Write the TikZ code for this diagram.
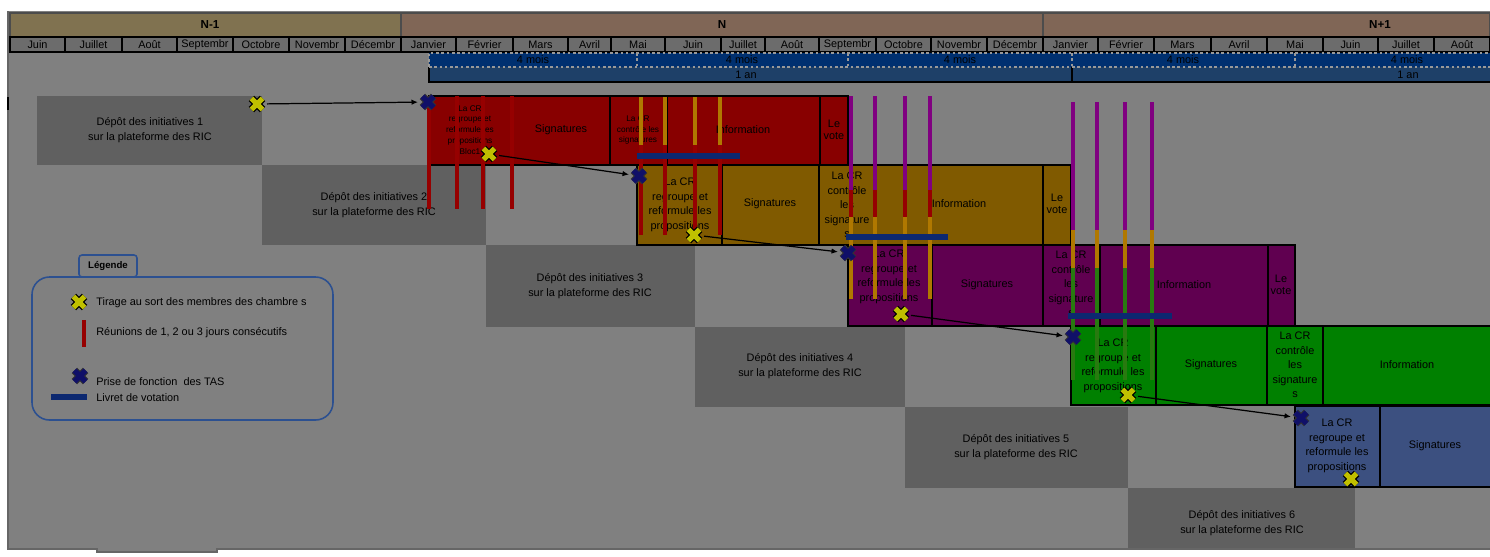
\documentclass[tikz,border=0pt]{standalone}
\usepackage{fontspec}
\setmainfont{Liberation Sans}
\usetikzlibrary{arrows.meta}
\definecolor{bgc}{HTML}{808080}
\definecolor{depc}{HTML}{606060}
\definecolor{redc}{HTML}{880000}
\definecolor{orc}{HTML}{805A00}
\definecolor{purc}{HTML}{600050}
\definecolor{grc}{HTML}{008000}
\definecolor{bluc}{HTML}{3C5080}
\definecolor{yeara}{HTML}{807250}
\definecolor{yearb}{HTML}{806656}
\definecolor{monthc}{HTML}{6C6C6C}
\definecolor{moisc}{HTML}{003070}
\definecolor{anc}{HTML}{1E4068}
\definecolor{livc}{HTML}{0C2870}
\definecolor{yelc}{HTML}{C0C000}
\definecolor{navyc}{HTML}{101068}
\definecolor{lred}{HTML}{960000}
\definecolor{lor}{HTML}{B07800}
\definecolor{lpur}{HTML}{800080}
\definecolor{lgr}{HTML}{287A10}
\definecolor{legc}{HTML}{2C5090}
\newcommand\fmain{\fontsize{6.2}{8.3}\selectfont}
\newcommand\fsmall{\fontsize{4.7}{6.2}\selectfont}
\newcommand\fvote{\fontsize{6.2}{6.9}\selectfont}
\newcommand\fyear{\fontsize{6.6}{7}\selectfont\bfseries}
\newcommand\blk[5]{\filldraw[fill=#5, draw=black, line width=1pt] (#1,#2) rectangle (#3,#4);}
\begin{document}
\begin{tikzpicture}[x=0.02cm,y=-0.02cm,
  tx/.style={inner sep=0, align=center, font=\fmain},
  txs/.style={inner sep=0, align=center, font=\fsmall},
  txv/.style={inner sep=0, align=center, font=\fvote},
  mline/.style={line width=2.2pt},
  livret/.style={livc, line width=3.4pt},
  arr/.style={black, line width=0.7pt, -{Latex[length=0.13cm,width=0.11cm]}},
  ymk/.style={minimum size=0.4cm, inner sep=0, outer sep=0, path picture={
    \draw[black, line width=4.4pt, shift={(path picture bounding box.center)}] (-5.6,-5.6)--(5.6,5.6) (-5.6,5.6)--(5.6,-5.6);
    \draw[yelc, line width=2.9pt, shift={(path picture bounding box.center)}] (-5.6,-5.6)--(5.6,5.6) (-5.6,5.6)--(5.6,-5.6);}},
  bmk/.style={minimum size=0.4cm, inner sep=0, outer sep=0, path picture={
    \draw[black!80, line width=4.4pt, shift={(path picture bounding box.center)}] (-5.6,-5.6)--(5.6,5.6) (-5.6,5.6)--(5.6,-5.6);
    \draw[navyc, line width=3.2pt, shift={(path picture bounding box.center)}] (-5.6,-5.6)--(5.6,5.6) (-5.6,5.6)--(5.6,-5.6);}}
]
\useasboundingbox (0,0) rectangle (1490,556);
\fill[white] (0,0) rectangle (1490,556);
\fill[bgc] (8,11) rectangle (1490,549);
\fill[bgc] (97,549) rectangle (217,552);
\draw[black!60, line width=0.6pt] (8,11) -- (8,549) -- (97,549) -- (97,552) -- (217,552) -- (217,549) -- (1490,549);
\draw[black, line width=1.5pt] (8,97) -- (8,110);

% years
\filldraw[fill=yeara, draw=black!70, line width=0.6pt] (10,13) rectangle (401,37);
\filldraw[fill=yearb, draw=black!70, line width=0.6pt] (401,13) rectangle (1043,37);
\filldraw[fill=yearb, draw=black!70, line width=0.6pt] (1043,13) rectangle (1490,37);
\node[inner sep=0, font=\fyear] (yN1) at (210,25) {N-1};
\node[inner sep=0, font=\fyear] (yN) at (722,25) {N};
\node[inner sep=0, font=\fyear] (yN2) at (1380,25) {N+1};

% months
\foreach \a/\b/\t in {10/65/Juin,65/122/Juillet,122/177/Août,177/233/Septembr,233/289/Octobre,289/345/Novembr,345/401/Décembr,
  401/456/Janvier,456/513/Février,513/568/Mars,568/611/Avril,611/665/Mai,665/721/Juin,721/765/Juillet,765/819/Août,819/876/Septembr,876/931/Octobre,931/987/Novembr,987/1043/Décembr,
  1043/1098/Janvier,1098/1154/Février,1154/1211/Mars,1211/1267/Avril,1267/1323/Mai,1323/1378/Juin,1378/1434/Juillet,1434/1490/Août}{
  \filldraw[fill=monthc, draw=black, line width=1pt] (\a,37) rectangle (\b,52);
  \node[tx] (m\a) at ({(\a+\b)/2},44.5) {\t};
}

% 4 mois / 1 an
\fill[moisc] (429,53) rectangle (1490,67);
\fill[anc] (429,67) rectangle (1490,82);
\draw[black, line width=0.8pt] (429,67) -- (429,82) -- (1490,82);
\draw[black, line width=0.8pt] (1072,67) -- (1072,82);
\draw[white!60!black, line width=0.6pt, dash pattern=on 1.5pt off 1.5pt] (429,67) -- (429,53) -- (1490,53) (429,67) -- (1490,67)
  (637,53) -- (637,67) (848,53) -- (848,67) (1072,53) -- (1072,67) (1295,53) -- (1295,67);
\node[tx] (q1) at (533,60) {4 mois};
\node[tx] (q2) at (742,60) {4 mois};
\node[tx] (q3) at (960,60) {4 mois};
\node[tx] (q4) at (1183,60) {4 mois};
\node[tx] (q5) at (1407,60) {4 mois};
\node[tx] (an1) at (746,75) {1 an};
\node[tx] (an2) at (1408,75) {1 an};

% depot boxes
\fill[depc] (37,96) rectangle (262,165);
\fill[depc] (262,165) rectangle (486,245);
\fill[depc] (486,245) rectangle (695,327);
\fill[depc] (695,327) rectangle (905,407);
\fill[depc] (905,407) rectangle (1128,488);
\fill[depc] (1128,488) rectangle (1355,548);
\node[tx] (d1) at (150,130) {Dépôt des initiatives 1\\sur la plateforme des RIC};
\node[tx] (d2) at (374,205) {Dépôt des initiatives 2\\sur la plateforme des RIC};
\node[tx] (d3) at (590,286) {Dépôt des initiatives 3\\sur la plateforme des RIC};
\node[tx] (d4) at (800,366) {Dépôt des initiatives 4\\sur la plateforme des RIC};
\node[tx] (d5) at (1016,447) {Dépôt des initiatives 5\\sur la plateforme des RIC};
\node[tx] (d6) at (1242,523) {Dépôt des initiatives 6\\sur la plateforme des RIC};

% row 1 red
\blk{429}{96}{512}{165}{redc}\blk{512}{96}{610}{165}{redc}\blk{610}{96}{667}{165}{redc}\blk{667}{96}{820}{165}{redc}\blk{820}{96}{848}{165}{redc}
% row 2 orange
\blk{637}{165}{722}{245}{orc}\blk{722}{165}{819}{245}{orc}\blk{819}{165}{875}{245}{orc}\blk{875}{165}{1043}{245}{orc}\blk{1043}{165}{1071}{245}{orc}
% row 3 purple
\blk{848}{245}{932}{326}{purc}\blk{932}{245}{1043}{326}{purc}\blk{1043}{245}{1100}{326}{purc}\blk{1100}{245}{1268}{326}{purc}\blk{1268}{245}{1295}{326}{purc}
% row 4 green
\blk{1071}{326}{1156}{405}{grc}\blk{1156}{326}{1267}{405}{grc}\blk{1267}{326}{1323}{405}{grc}\blk{1323}{326}{1495}{405}{grc}
% row 5 blue
\blk{1295}{406}{1380}{487}{bluc}\blk{1380}{406}{1495}{487}{bluc}

\node[txs] (r1a) at (470,130) {La CR\\regroupe et\\reformule les\\propositions\\Bloc1};
\node[tx] (r1b) at (561,130) {Signatures};
\node[txs] (r1c) at (638,130) {La CR\\contrôle les\\signatures};
\node[tx] (r1d) at (743,130) {Information};
\node[txv] (r1e) at (834,130) {Le\\vote};

\node[tx] (r2a) at (680,205) {La CR\\regroupe et\\reformule les\\propositions};
\node[tx] (r2b) at (770,204) {Signatures};
\node[tx] (r2c) at (847,205) {La CR\\contrôle\\les\\signature\\s};
\node[tx] (r2d) at (959,204) {Information};
\node[txv] (r2e) at (1057,204) {Le\\vote};

\node[tx] (r3a) at (889,277) {La CR\\regroupe et\\reformule les\\propositions};
\node[tx] (r3b) at (987,285) {Signatures};
\node[tx] (r3c) at (1071,284) {La CR\\contrôle\\les\\signature\\s};
\node[tx] (r3d) at (1184,285) {Information};
\node[txv] (r3e) at (1281,285) {Le\\vote};

\node[tx] (r4a) at (1113,366) {La CR\\regroupe et\\reformule les\\propositions};
\node[tx] (r4b) at (1211,365) {Signatures};
\node[tx] (r4c) at (1295,365) {La CR\\contrôle\\les\\signature\\s};
\node[tx] (r4d) at (1407,365) {Information};

\node[tx] (r5a) at (1337,446) {La CR\\regroupe et\\reformule les\\propositions};
\node[tx] (r5b) at (1435,446) {Signatures};

% meeting lines
\foreach \x in {429,457,483,512}{\draw[mline, lred] (\x,96) -- (\x,209);}
\foreach \x in {641,665,695,720}{\draw[mline, lor] (\x,97) -- (\x,145); \draw[mline, lred] (\x,145) -- (\x,235);}
\foreach \x in {851,875,905,930}{\draw[mline, lpur] (\x,96) -- (\x,190); \draw[mline, lred] (\x,190) -- (\x,217); \draw[mline, lor] (\x,217) -- (\x,299);}
\foreach \x in {1073,1097,1125,1152}{\draw[mline, lpur] (\x,102) -- (\x,230); \draw[mline, lor] (\x,230) -- (\x,268); \draw[mline, lgr] (\x,268) -- (\x,380);}

% livret bars
\draw[livret] (637,156) -- (740,156);
\draw[livret] (846,237) -- (948,237);
\draw[livret] (1068,316) -- (1172,316);

% markers
\node[ymk] (y1) at (257,104) {};
\node[ymk] (y2) at (489,154) {};
\node[ymk] (y3) at (694,235) {};
\node[ymk] (y4) at (901,314) {};
\node[ymk] (y5) at (1128,395) {};
\node[ymk] (y6) at (1351,479) {};
\node[bmk] (b1) at (428,102) {};
\node[bmk] (b2) at (639,176) {};
\node[bmk] (b3) at (848,253) {};
\node[bmk] (b4) at (1073,337) {};
\node[bmk] (b5) at (1301,418) {};
\draw[arr] (y1) -- (b1);
\draw[arr] (y2) -- (b2);
\draw[arr] (y3) -- (b3);
\draw[arr] (y4) -- (b4);
\draw[arr] (y5) -- (b5);

% legend
\draw[legc, line width=0.9pt, rounded corners=0.35cm] (32,277) rectangle (333,420);
\filldraw[fill=bgc, draw=legc, line width=0.9pt, rounded corners=0.06cm] (79,255) rectangle (137,277);
\node[inner sep=0, font=\fontsize{5.5}{6}\selectfont\bfseries] (legt) at (108,266) {Légende};
\node[ymk] (ly) at (79,302) {};
\node[tx, anchor=west] (lt1) at (96,303) {Tirage au sort des membres des chambre s};
\coordinate (lra) at (84,320);
\coordinate (lrb) at (84,347);
\draw[mline, lred] (lra) -- (lrb);
\node[tx, anchor=west] (lt2) at (96,333) {Réunions de 1, 2 ou 3 jours consécutifs};
\node[bmk] (lb) at (80,376) {};
\node[tx, anchor=west] (lt3) at (96,382) {Prise de fonction\ \ des TAS};
\coordinate (lla) at (51,397);
\coordinate (llb) at (87,397);
\draw[livret] (lla) -- (llb);
\node[tx, anchor=west] (lt4) at (96,398) {Livret de votation};
\end{tikzpicture}
\end{document}
